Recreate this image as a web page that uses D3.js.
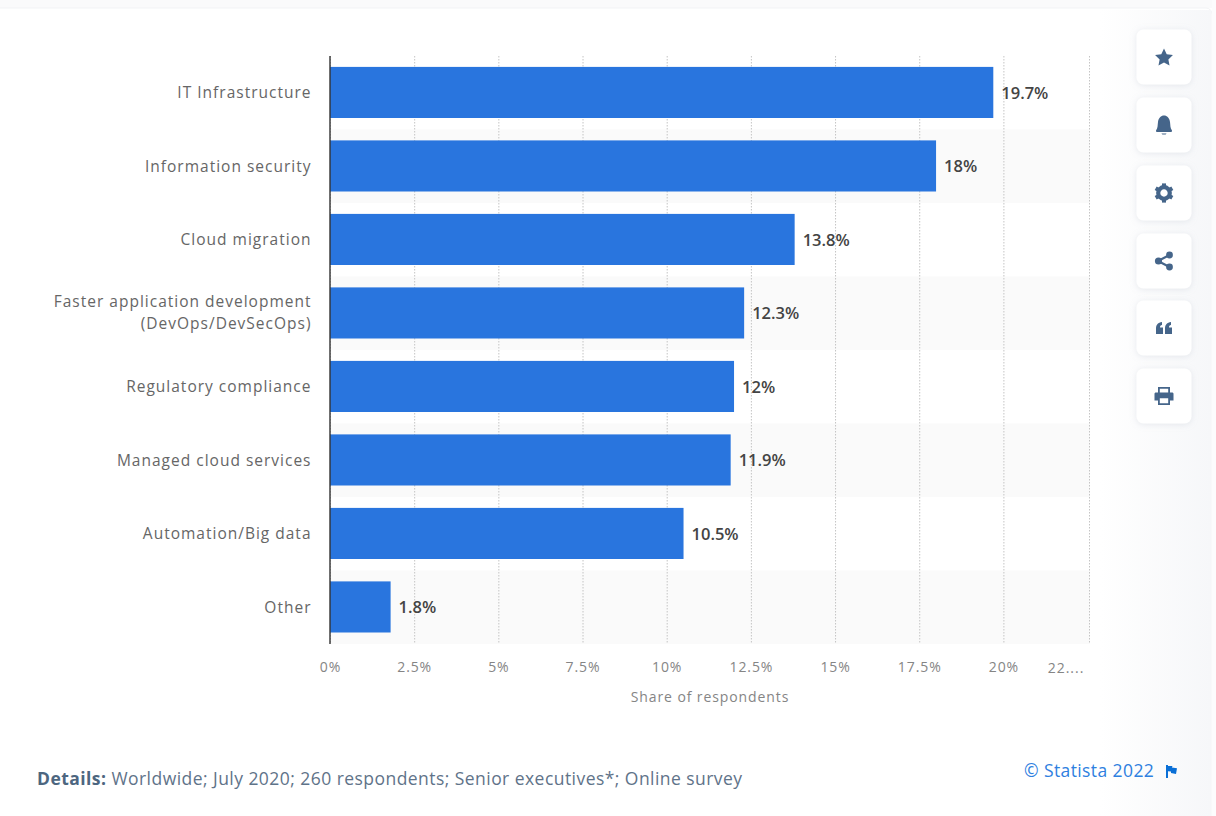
<!DOCTYPE html>
<html>
<head>
<meta charset="utf-8">
<script src="https://cdn.jsdelivr.net/npm/d3@7"></script>
<style>
  html, body { margin: 0; padding: 0; background: #fff; }
  svg { display: block; }
  text { font-family: "Open Sans", "Noto Sans", sans-serif; }
  .tick line { stroke: #c4c4c4; stroke-width: 1; stroke-dasharray: 1.5 1.5; }
  .domain { display: none; }
</style>
</head>
<body>
<svg id="chart" width="1216" height="816"></svg>
<script>
const categories = [
  "IT Infrastructure",
  "Information security",
  "Cloud migration",
  "Faster application development\n(DevOps/DevSecOps)",
  "Regulatory compliance",
  "Managed cloud services",
  "Automation/Big data",
  "Other"
];
const shares = [19.7, 18, 13.8, 12.3, 12, 11.9, 10.5, 1.8];
const valueLabels = ["19.7%", "18%", "13.8%", "12.3%", "12%", "11.9%", "10.5%", "1.8%"];
const tickValues = [0, 2.5, 5, 7.5, 10, 12.5, 15, 17.5, 20];
const tickLabels = ["0%", "2.5%", "5%", "7.5%", "10%", "12.5%", "15%", "17.5%", "20%"];
const truncatedTick = "22....";
const axisTitle = "Share of respondents";
const detailsLead = "Details:";
const detailsText = " Worldwide; July 2020; 260 respondents; Senior executives*; Online survey";
const copyrightText = "© Statista 2022";

const svg = d3.select("#chart");
const defs = svg.append("defs");

const plot = { left: 330, right: 1090, top: 56, bottom: 644 };

// Soft shading of the page behind the action buttons
const sideFade = defs.append("linearGradient").attr("id", "sideFade");
sideFade.append("stop").attr("offset", 0).attr("stop-color", "#f6f7f9").attr("stop-opacity", 0);
sideFade.append("stop").attr("offset", 1).attr("stop-color", "#f6f7f9").attr("stop-opacity", 1);

const shadow = defs.append("filter").attr("id", "btnShadow")
  .attr("x", "-30%").attr("y", "-30%").attr("width", "160%").attr("height", "160%");
shadow.append("feDropShadow").attr("dx", 0).attr("dy", 1).attr("stdDeviation", 3)
  .attr("flood-color", "#aab4c4").attr("flood-opacity", 0.28);

// Card outline
svg.append("rect").attr("x", -10).attr("y", 0).attr("width", 1240).attr("height", 8).attr("fill", "#fafafb");
svg.append("rect").attr("x", -10).attr("y", 8).attr("width", 1222).attr("height", 818).attr("rx", 6)
  .attr("fill", "#fff").attr("stroke", "#f2f3f5");
svg.append("rect").attr("x", 1100).attr("y", 10).attr("width", 111).attr("height", 806).attr("fill", "url(#sideFade)");
svg.append("rect").attr("x", 1212).attr("y", 0).attr("width", 4).attr("height", 816).attr("fill", "#fcfcfd");

const x = d3.scaleLinear().domain([0, 760 / 33.67]).range([plot.left, plot.right]);
const y = d3.scaleBand().domain(categories).range([plot.top, plot.bottom]).paddingInner(0).paddingOuter(0);
const barInset = 11.2;

// Alternating row shading
svg.append("g").selectAll("rect")
  .data(categories.filter((d, i) => i % 2 === 1))
  .join("rect")
  .attr("x", plot.left).attr("width", plot.right - plot.left)
  .attr("y", d => y(d)).attr("height", y.bandwidth())
  .attr("fill", "#fafafa");

// Dotted vertical grid with percentage labels beneath
const axis = d3.axisBottom(x)
  .tickValues(tickValues)
  .tickFormat((d, i) => tickLabels[i])
  .tickSize(plot.bottom - plot.top)
  .tickPadding(18);
const axisG = svg.append("g").attr("transform", `translate(0,${plot.top})`).call(axis);
axisG.selectAll("text")
  .attr("fill", "#858585").attr("font-size", 14).style("letter-spacing", "0.9px");

// Closing grid line at the edge of the plot
svg.append("line")
  .attr("x1", plot.right - 0.5).attr("x2", plot.right - 0.5)
  .attr("y1", plot.top).attr("y2", plot.bottom)
  .attr("stroke", "#c4c4c4").attr("stroke-dasharray", "1.5 1.5");

svg.append("text").attr("x", 1066).attr("y", 672.5).attr("text-anchor", "middle")
  .attr("fill", "#858585").attr("font-size", 14).style("letter-spacing", "1px")
  .text(truncatedTick);

// Bars
svg.append("g").selectAll("rect")
  .data(categories)
  .join("rect")
  .attr("x", x(0))
  .attr("y", d => y(d) + barInset - 0.3)
  .attr("width", (d, i) => x(shares[i]) - x(0))
  .attr("height", y.bandwidth() - 2 * barInset)
  .attr("fill", "#2975de");

// Baseline
svg.append("line")
  .attr("x1", plot.left).attr("x2", plot.left)
  .attr("y1", plot.top).attr("y2", plot.bottom)
  .attr("stroke", "#333").attr("stroke-width", 1.4);

// Value labels
svg.append("g").selectAll("text")
  .data(categories)
  .join("text")
  .attr("x", (d, i) => x(shares[i]) + 8)
  .attr("y", d => y(d) + y.bandwidth() / 2 + 5.8)
  .attr("fill", "#444")
  .attr("font-size", 16.5)
  .attr("font-weight", 600)
  .text((d, i) => valueLabels[i]);

// Category labels, wrapped on explicit line breaks
svg.append("g").selectAll("text")
  .data(categories)
  .join("text")
  .attr("text-anchor", "end")
  .attr("fill", "#666")
  .attr("font-size", 15.5)
  .style("letter-spacing", "1px")
  .each(function (d) {
    const lines = d.split("\n");
    const mid = y(d) + y.bandwidth() / 2 + 5.4;
    d3.select(this).selectAll("tspan")
      .data(lines)
      .join("tspan")
      .attr("x", 311.5)
      .attr("y", (l, i) => mid + (i - (lines.length - 1) / 2) * 22 - (lines.length - 1));
  })
  .selectAll("tspan").text(l => l);

svg.append("text").attr("x", 710).attr("y", 701.5).attr("text-anchor", "middle")
  .attr("fill", "#858585").attr("font-size", 14).style("letter-spacing", "0.9px")
  .text(axisTitle);

// Source details
const details = svg.append("text").attr("x", 37).attr("y", 785)
  .attr("fill", "#5f7389").attr("font-size", 17.5).style("letter-spacing", "0.45px");
details.append("tspan").attr("font-weight", 700).attr("fill", "#4d6680").text(detailsLead);
details.append("tspan").text(detailsText);

// Copyright with flag
svg.append("text").attr("x", 1024).attr("y", 777)
  .attr("fill", "#2f80e0").attr("font-size", 17.5).style("letter-spacing", "0.4px").text(copyrightText);
svg.append("path")
  .attr("transform", "translate(1166,765)")
  .attr("d", "M0,0H2V1H6.5L5.8,2.6L11,3.2L10,9L5,8V6.6L2,6.2V13H0Z")
  .attr("fill", "#0a6fd6");

// Five-pointed star outline for the first button
const starPoints = d3.range(10).map(i => {
  const r = i % 2 ? 4.6 : 9.4;
  const a = i * Math.PI / 5;
  return [r * Math.sin(a), -r * Math.cos(a)];
});

// Action buttons
const iconColor = "#45658a";
const icons = [
  g => g.append("path").attr("d", d3.line()(starPoints) + "Z").attr("transform", "translate(0,1)"),
  g => g.append("path").attr("d", "M-8,5.5C-6,3-6.5,0-6,-3C-5.5,-7-3,-9.5,0,-9.5C3,-9.5,5.5,-7,6,-3C6.5,0,6,3,8,5.5C8,6.5,7.5,7,7,7H-7C-7.5,7,-8,6.5,-8,5.5ZM-2.5,8.4H2.5C2,10,-2,10,-2.5,8.4Z"),
  g => {
    g.append("circle").attr("r", 5.8).attr("fill", "none").attr("stroke", iconColor).attr("stroke-width", 4.2);
    g.selectAll("rect").data(d3.range(0, 360, 60)).join("rect")
      .attr("x", -2).attr("y", -9.6).attr("width", 4).attr("height", 3.5)
      .attr("transform", d => `rotate(${d})`);
  },
  g => {
    g.append("path").attr("d", "M-6,0L5.5,-6M-6,0L5.5,6").attr("stroke", iconColor).attr("stroke-width", 2.2).attr("fill", "none");
    g.selectAll("circle").data([[-5.5, 0, 3.6], [5.5, -6, 3.4], [5.5, 6, 3.4]]).join("circle")
      .attr("cx", d => d[0]).attr("cy", d => d[1]).attr("r", d => d[2]);
  },
  g => g.append("path").attr("d", "M-8,6V0C-8,-3,-6,-5.5,-2,-6V-3C-3.5,-3,-4,-2,-4,-0.5H-1V6ZM1,6V0C1,-3,3,-5.5,7,-6V-3C5.5,-3,5,-2,5,-0.5H8V6Z"),
  g => g.append("path").attr("fill-rule", "evenodd")
    .attr("d", "M-6,-3.5V-9H6V-3.5H8C9,-3.5,9.5,-3,9.5,-2V4.5H6V9H-6V4.5H-9.5V-2C-9.5,-3,-9,-3.5,-8,-3.5ZM-4.2,-7.2V-3.5H4.2V-7.2ZM-4.2,2.2V7.2H4.2V2.2Z")
];
const buttonY = [57, 125, 193, 261, 328, 396];
const buttons = svg.append("g").selectAll("g")
  .data(buttonY)
  .join("g")
  .attr("transform", d => `translate(1164,${d})`);
buttons.append("rect")
  .attr("x", -27.5).attr("y", -27.5).attr("width", 55).attr("height", 55).attr("rx", 7)
  .attr("fill", "#fff").attr("filter", "url(#btnShadow)");
buttons.each(function (d, i) {
  const g = d3.select(this).append("g").attr("fill", iconColor);
  icons[i](g);
});
</script>
</body>
</html>
